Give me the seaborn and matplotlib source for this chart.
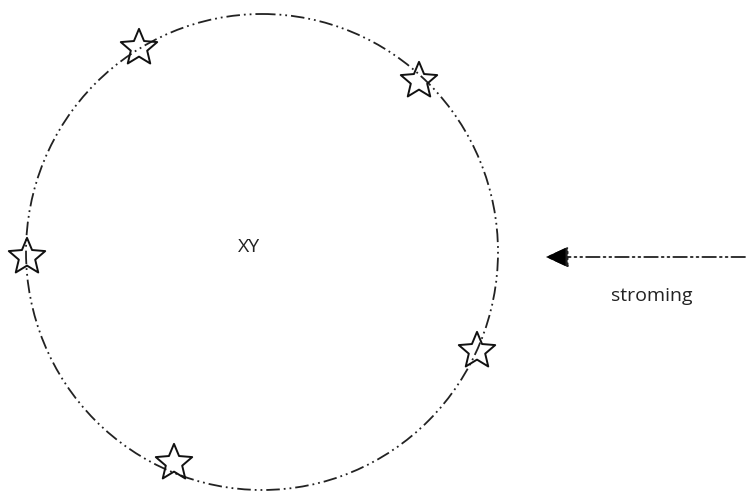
import pandas as pd
import seaborn as sns
import matplotlib.pyplot as plt
from matplotlib.patches import Ellipse
from matplotlib.path import Path

# stars on the circle (pixel-like coordinates, y downward)
star_x = [139, 419, 27, 477, 174]
star_y = [48, 81, 257, 351, 463]

circle_center = (262, 252)
circle_w = 472
circle_h = 476

arrow_start = (745, 257)
arrow_end = (546, 257)

labels = ['XY', 'stroming']
label_x = [249, 652]
label_y = [247, 296]

dashdotdot = (0, (7.5, 2.2, 1, 2.2, 1, 2.2))

sns.set_style('white')
plt.rcParams['font.family'] = ['Open Sans', 'DejaVu Sans']

fig = plt.figure(figsize=(7.47, 4.91), dpi=100)
ax = fig.add_axes([0, 0, 1, 1])
ax.set_xlim(0, 747)
ax.set_ylim(491, 0)
ax.axis('off')

ax.add_patch(Ellipse(circle_center, circle_w, circle_h, fill=False,
                     edgecolor='#222222', linewidth=1.3, linestyle=dashdotdot))

star_path = Path.unit_regular_star(5, 0.45)
stars = pd.DataFrame({'x': star_x, 'y': star_y})
sns.scatterplot(data=stars, x='x', y='y', marker=star_path, s=760, ax=ax,
                facecolor='none', edgecolor='#111111', linewidth=1.4, zorder=3)

ax.annotate('', xy=arrow_end, xytext=arrow_start,
            arrowprops=dict(arrowstyle='-|>,head_length=1.4,head_width=0.65',
                            color='#222222', linewidth=1.3, linestyle=dashdotdot,
                            shrinkA=0, shrinkB=0))
# solid arrow head overlay
ax.annotate('', xy=arrow_end, xytext=(arrow_end[0] + 24, arrow_end[1]),
            arrowprops=dict(arrowstyle='-|>,head_length=1.4,head_width=0.65',
                            color='black', linewidth=0.01, shrinkA=0, shrinkB=0))

for t, x, y in zip(labels, label_x, label_y):
    ax.text(x, y, t, fontsize=14, ha='center', va='center', color='#222222')

ax.set_xlabel('')
ax.set_ylabel('')
plt.savefig('out.png', dpi=100)
